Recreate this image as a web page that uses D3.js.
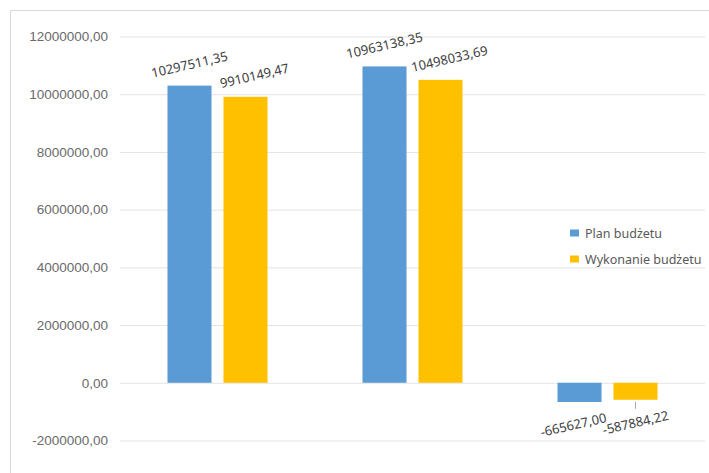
<!DOCTYPE html>
<html>
<head>
<meta charset="utf-8">
<script src="https://cdn.jsdelivr.net/npm/d3@7"></script>
<style>
    body { margin: 0; background: #ffffff; }
    svg { display: block; font-family: "Noto Sans", "Liberation Sans", sans-serif; }
</style>
</head>
<body>
<svg id="chart" width="709" height="473"></svg>
<script>

// data
var categories = ["Dochody", "Wydatki", "Wynik"];
var seriesNames = ["Plan budżetu", "Wykonanie budżetu"];
var planValues = [10297511.35, 10963138.35, -665627.00];
var execValues = [9910149.47, 10498033.69, -587884.22];
var yTicks = [-2000000, 0, 2000000, 4000000, 6000000, 8000000, 10000000, 12000000];

var colors = ["#5b9bd5", "#ffc000"];

var svg = d3.select("#chart");
var width = 709;
var height = 473;

// polish number format: comma decimal, no grouping, plain hyphen minus
var pl = d3.formatLocale({ decimal: ",", thousands: " ", grouping: [3], currency: ["", " zł"], minus: "-" });
var fmt = pl.format(".2f");

// outer frame (only top and left visible)
svg.append("path")
    .attr("d", "M10.5," + height + " V10.5 H" + width)
    .attr("fill", "none")
    .attr("stroke", "#d9d9d9")
    .attr("stroke-width", 1);

var y = d3.scaleLinear()
    .domain([-2000000, 12000000])
    .range([440.5, 36.5]);

var x0 = d3.scaleBand()
    .domain(categories)
    .range([120, 705])
    .paddingInner(0.487)
    .paddingOuter(0.2435);

var x1 = d3.scaleBand()
    .domain(seriesNames)
    .range([0, x0.bandwidth()])
    .paddingInner(0.214);

// gridlines + labels
var yAxis = d3.axisLeft(y)
    .tickValues(yTicks)
    .tickSize(-(705 - 120))
    .tickPadding(12)
    .tickFormat(fmt);

var ag = svg.append("g")
    .attr("transform", "translate(120,0)")
    .call(yAxis);

ag.select(".domain").remove();
ag.selectAll(".tick line")
    .attr("stroke", "#e3e3e3")
    .attr("stroke-width", 1);
ag.selectAll(".tick text")
    .attr("fill", "#6a6a6a")
    .attr("font-size", "13.5px");

// build rows from arrays
var rows = categories.map(function (c, i) {
    return { cat: c, values: [
        { s: seriesNames[0], v: planValues[i], k: 0 },
        { s: seriesNames[1], v: execValues[i], k: 1 }
    ] };
});

var groups = svg.append("g").selectAll("g")
    .data(rows)
    .join("g")
    .attr("transform", function (d) { return "translate(" + x0(d.cat) + ",0)"; });

groups.selectAll("rect")
    .data(function (d) { return d.values; })
    .join("rect")
    .attr("x", function (d) { return x1(d.s); })
    .attr("width", x1.bandwidth())
    .attr("y", function (d) { return y(Math.max(0, d.v)); })
    .attr("height", function (d) { return Math.abs(y(d.v) - y(0)); })
    .attr("fill", function (d) { return colors[d.k]; });

// data labels (tilted like in the original)
var labelDxPos = [0, 9];
var labelDxNeg = [-6, 0];

groups.selectAll("g.lbl")
    .data(function (d) { return d.values; })
    .join("g")
    .attr("class", "lbl")
    .attr("transform", function (d) {
        var cx = x1(d.s) + x1.bandwidth() / 2;
        var ly;
        if (d.v >= 0) {
            cx += labelDxPos[d.k];
            ly = y(d.v) - 21;
        } else {
            cx += labelDxNeg[d.k];
            ly = y(d.v) + 23;
        }
        return "translate(" + cx + "," + ly + ") rotate(-13)";
    })
    .append("text")
    .attr("text-anchor", "middle")
    .attr("y", 4.5)
    .attr("fill", "#404040")
    .attr("font-size", "13px")
    .text(function (d) { return fmt(d.v); });

// small leader line for the negative execution label
groups.selectAll("line.lead")
    .data(function (d) { return d.values.filter(function (v) { return v.v < 0 && v.k === 1; }); })
    .join("line")
    .attr("class", "lead")
    .attr("x1", function (d) { return x1(d.s) + x1.bandwidth() / 2; })
    .attr("x2", function (d) { return x1(d.s) + x1.bandwidth() / 2; })
    .attr("y1", function (d) { return y(d.v) + 2; })
    .attr("y2", function (d) { return y(d.v) + 9; })
    .attr("stroke", "#a6a6a6")
    .attr("stroke-width", 1);

// legend
var legend = svg.append("g")
    .attr("transform", "translate(570,233)");

var items = legend.selectAll("g")
    .data(seriesNames)
    .join("g")
    .attr("transform", function (d, i) { return "translate(0," + (i * 26) + ")"; });

items.append("rect")
    .attr("x", 0)
    .attr("y", -3.5)
    .attr("width", 9)
    .attr("height", 7)
    .attr("fill", function (d, i) { return colors[i]; });

items.append("text")
    .attr("x", 15)
    .attr("y", 0)
    .attr("dominant-baseline", "central")
    .attr("fill", "#595959")
    .attr("font-size", "12.5px")
    .text(function (d) { return d; });

</script>
</body>
</html>
